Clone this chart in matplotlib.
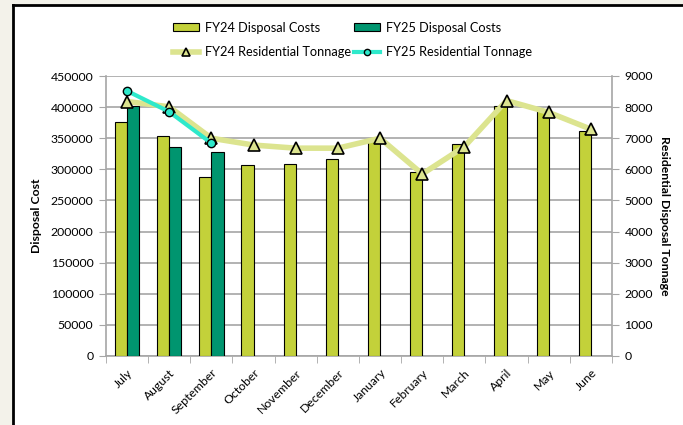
import numpy as np
import matplotlib as mpl
import matplotlib.pyplot as plt
from matplotlib.patches import Rectangle
from matplotlib.lines import Line2D

mpl.rc('font', family='Lato', size=8.8)

months = ['July', 'August', 'September', 'October', 'November', 'December',
          'January', 'February', 'March', 'April', 'May', 'June']

# disposal costs ($)
fy24_cost = [376000, 353000, 288000, 307000, 308000, 317000,
             346000, 296000, 341000, 401000, 395000, 362000]
fy25_cost = [401000, 336000, 328000]

# residential tonnage
fy24_tons = [8180, 8010, 7000, 6780, 6680, 6680,
             7000, 5850, 6730, 8210, 7830, 7290]
fy25_tons = [8520, 7850, 6840]

c24 = '#c3d13a'
c25 = '#00956f'
l24 = '#dce48f'
l25 = '#2ee9cb'

W, H = 683, 425
fig = plt.figure(figsize=(W / 100, H / 100), dpi=100)
fig.patch.set_facecolor('#f3f2ea')
# white chart area with black frame on left/top
fig.patches.append(Rectangle((13 / W, 0), 1, 1 - 5 / H, transform=fig.transFigure,
                             facecolor='white', edgecolor='none', zorder=-5))
fig.add_artist(Line2D([13 / W, 13 / W], [0, 1 - 5 / H], transform=fig.transFigure,
                      color='black', lw=2))
fig.add_artist(Line2D([13 / W, 1], [1 - 5 / H, 1 - 5 / H], transform=fig.transFigure,
                      color='black', lw=2))

ax = fig.add_axes([106 / W, 69 / H, 506 / W, 280 / H])
ax.set_facecolor('none')
x = np.arange(len(months))
bw = 0.29
b24 = ax.bar(x - bw / 2, fy24_cost, bw, color=c24, edgecolor='black', lw=0.8, zorder=3)
b25 = ax.bar(x[:len(fy25_cost)] + bw / 2, fy25_cost, bw, color=c25, edgecolor='black', lw=0.8, zorder=3)

ax.set_xlim(-0.5, len(months) - 0.5)
ax.set_ylim(0, 450000)
ax.set_yticks(np.arange(0, 450001, 50000))
ax.yaxis.grid(True, color='#a6a6a6', lw=1.2)
ax.set_axisbelow(True)
ax.set_xticks(x)
ax.set_xticklabels(months, rotation=45, ha='right', rotation_mode='anchor')
ax.set_xticks(np.arange(-0.5, len(months)), minor=True)
ax.tick_params(axis='x', which='major', length=0, pad=8)
ax.tick_params(axis='x', which='minor', length=5, color='#a6a6a6')
ax.tick_params(axis='y', length=5, color='#a6a6a6', pad=4)
for s in ['top', 'right']:
    ax.spines[s].set_visible(False)
for s in ['left', 'bottom']:
    ax.spines[s].set_color('#a6a6a6')
    ax.spines[s].set_linewidth(1.2)
ax.set_ylabel('Disposal Cost', fontweight='bold', labelpad=6)

ax2 = ax.twinx()
ln24, = ax2.plot(x, fy24_tons, color=l24, lw=4, marker='^', ms=8,
                 mfc=l24, mec='black', mew=1.2, zorder=4)
ln25, = ax2.plot(x[:len(fy25_tons)], fy25_tons, color=l25, lw=3, marker='o', ms=6,
                 mfc=l25, mec='black', mew=1.0, zorder=5)
ax2.set_ylim(0, 9000)
ax2.set_yticks(np.arange(0, 9001, 1000))
ax2.tick_params(axis='y', length=5, color='#a6a6a6', pad=4)
for s in ['top', 'left', 'bottom']:
    ax2.spines[s].set_visible(False)
ax2.spines['right'].set_color('#a6a6a6')
ax2.spines['right'].set_linewidth(1.2)
ax2.set_ylabel('Residential Disposal Tonnage', fontweight='bold', rotation=270, labelpad=12)

fig.legend([b24, ln24, b25, ln25],
           ['FY24 Disposal Costs', 'FY24 Residential Tonnage',
            'FY25 Disposal Costs', 'FY25 Residential Tonnage'],
           ncol=2, loc='upper center', bbox_to_anchor=(0.516, 0.949), frameon=False,
           columnspacing=0.23, handlelength=2.05, handleheight=0.6, handletextpad=0.47,
           labelspacing=1.0, borderaxespad=0, borderpad=0, fontsize=9.2, markerscale=0.75)

fig.savefig('out.png', dpi=100, facecolor=fig.get_facecolor())
